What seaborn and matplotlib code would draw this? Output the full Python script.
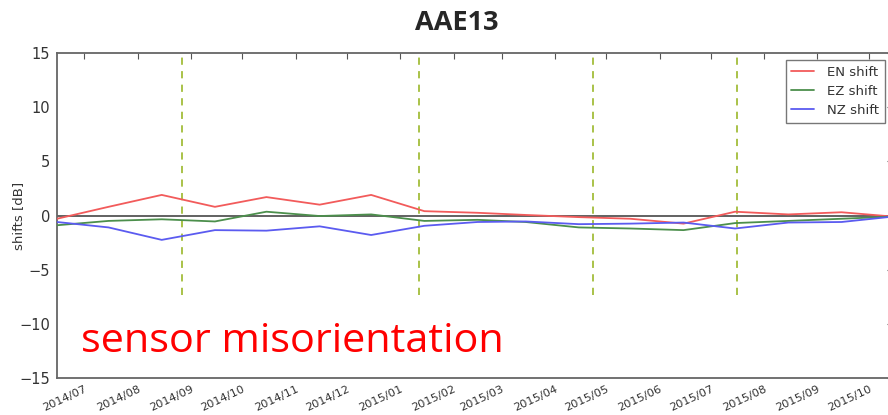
import matplotlib
matplotlib.use("Agg")
import matplotlib.pyplot as plt
import seaborn as sns
import pandas as pd
import numpy as np
from matplotlib.lines import Line2D

months = ["2014-06-15", "2014-07-15", "2014-08-15", "2014-09-15", "2014-10-15",
          "2014-11-15", "2014-12-15", "2015-01-15", "2015-02-15", "2015-03-15",
          "2015-04-15", "2015-05-15", "2015-06-15", "2015-07-15", "2015-08-15",
          "2015-09-15", "2015-10-15"]
en_shift = [-0.3, 0.8, 1.9, 0.8, 1.7, 1.0, 1.9, 0.4, 0.25, 0.05, -0.15, -0.3, -0.75, 0.35, 0.1, 0.3, -0.1]
ez_shift = [-0.9, -0.5, -0.35, -0.55, 0.35, -0.05, 0.1, -0.5, -0.4, -0.6, -1.1, -1.2, -1.35, -0.7, -0.5, -0.3, -0.1]
nz_shift = [-0.6, -1.1, -2.25, -1.35, -1.4, -1.0, -1.8, -0.95, -0.6, -0.55, -0.8, -0.75, -0.65, -1.2, -0.65, -0.6, -0.1]
series_names = ["EN shift", "EZ shift", "NZ shift"]
events = ["2014-08-27", "2015-01-12", "2015-04-23", "2015-07-16"]
tick_months = pd.date_range("2014-07-01", "2015-10-01", freq="MS")
yticks = [-15, -10, -5, 0, 5, 10, 15]

dates = pd.to_datetime(months)
df = pd.DataFrame({
    "date": np.tile(dates, 3),
    "shift": en_shift + ez_shift + nz_shift,
    "series": np.repeat(series_names, len(months)),
})

sns.set_style("white")
plt.rcParams["font.family"] = ["DejaVu Sans"]

fig = plt.figure(figsize=(8.88, 4.15), dpi=100)
ax = fig.add_axes([57 / 888, 1 - 378 / 415, 836 / 888, (378 - 53) / 415])

palette = {"EN shift": "#f25b5b", "EZ shift": "#4c8f4c", "NZ shift": "#5b5bf0"}
ax.axhline(0, color="#555555", lw=1.3, zorder=1)
sns.lineplot(data=df, x="date", y="shift", hue="series", palette=palette,
             ax=ax, lw=1.3, legend=False, zorder=3)
ax.vlines(pd.to_datetime(events), -7.3, 15, colors="#a3bd3a", linestyles=(0, (4, 3.5)), lw=1.3, zorder=2)

ax.set_xlim(dates[0], dates[-1])
ax.set_ylim(-15, 15)
ax.set_yticks(yticks)
ax.set_yticklabels([str(v).replace("-", "\u2212") for v in yticks], fontsize=10.5, color="#333333")
ax.set_xticks(tick_months)
ax.set_xticklabels([d.strftime("%Y/%m") for d in tick_months], rotation=25, ha="right",
                   fontsize=8.2, color="#333333", rotation_mode="anchor")
ax.tick_params(axis="both", direction="in", length=4, top=True, right=True, color="#555555", pad=5)
ax.tick_params(axis="x", pad=4)
ax.set_xlabel("")
ax.set_ylabel("shifts [dB]", fontsize=9.5, color="#333333")
ax.yaxis.set_label_coords(-32 / 836, 0.5)
for s in ax.spines.values():
    s.set_color("#666666")
    s.set_linewidth(1.3)

handles = [Line2D([], [], color=palette[n], lw=1.3) for n in series_names]
leg = ax.legend(handles, series_names, loc="upper right", bbox_to_anchor=(885 / 888, 1 - 60 / 415),
                bbox_transform=fig.transFigure, fontsize=9.5, frameon=True, fancybox=False,
                handlelength=1.7, handletextpad=1.0, borderpad=0.45, labelspacing=0.45,
                borderaxespad=0.0)
leg.get_frame().set_edgecolor("#555555")
leg.get_frame().set_linewidth(1.0)
for t in leg.get_texts():
    t.set_color("#333333")

fig.text(456.5 / 888, 1 - 23 / 415, "AAE13", ha="center", va="center", fontsize=19.5,
         fontweight="bold", family=["Open Sans", "DejaVu Sans"])
ax.text(81 / 888, 1 - 352 / 415, "sensor misorientation", transform=fig.transFigure,
        ha="left", va="baseline", fontsize=29.8, color="#ff0000", family=["Open Sans", "DejaVu Sans"])

fig.savefig("out.png", dpi=100)
